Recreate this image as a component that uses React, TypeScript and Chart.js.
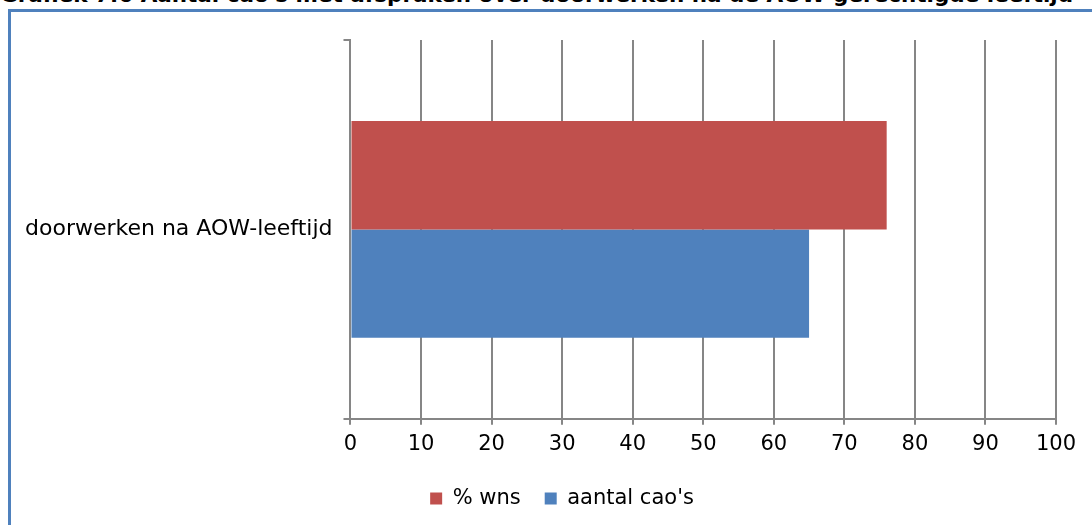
import React, { useEffect, useRef } from "react";
import { Chart, registerables } from "chart.js";

Chart.register(...registerables);

const TITLE = "Grafiek 7.6  Aantal cao's met afspraken over doorwerken na de AOW-gerechtigde leeftijd";
const categories = ["doorwerken na AOW-leeftijd"];
const seriesNames = ["% wns", "aantal cao's"];
const wnsValues = [76];
const caoValues = [65];
const seriesColors = ["#C0504D", "#4F81BD"];
const xTicks = [0, 10, 20, 30, 40, 50, 60, 70, 80, 90, 100];

const legendShift = {
  id: "legendShift",
  afterLayout(chart: any) {
    if (chart.legend) {
      chart.legend.left += 27;
      chart.legend.right += 27;
    }
  },
};

export default function App() {
  const ref = useRef<HTMLCanvasElement | null>(null);

  useEffect(() => {
    document.body.style.margin = "0";
    const ctx = ref.current!;
    const family = "'DejaVu Sans', Verdana, sans-serif";
    const tickFont = { family, size: 21 };
    const catFont = { family, size: 22 };
    const chart = new Chart(ctx, {
      type: "bar",
      data: {
        labels: categories,
        datasets: [
          {
            label: seriesNames[0],
            data: wnsValues,
            backgroundColor: seriesColors[0],
            borderWidth: 0,
          },
          {
            label: seriesNames[1],
            data: caoValues,
            backgroundColor: seriesColors[1],
            borderWidth: 0,
          },
        ],
      },
      plugins: [legendShift],
      options: {
        indexAxis: "y",
        animation: false,
        responsive: false,
        maintainAspectRatio: false,
        categoryPercentage: 0.572,
        barPercentage: 1,
        layout: { padding: { left: 3, right: 36, top: 28, bottom: 13 } },
        plugins: {
          title: { display: false },
          tooltip: { enabled: false },
          legend: {
            position: "bottom",
            labels: {
              font: tickFont,
              color: "#000",
              boxWidth: 12,
              boxHeight: 12,
              padding: 24,
            },
          },
        },
        scales: {
          x: {
            min: 0,
            max: 100,
            afterBuildTicks: (s: any) => {
              s.ticks = xTicks.map((v) => ({ value: v }));
            },
            grid: {
              color: "#868686",
              lineWidth: 2,
              drawTicks: true,
              tickLength: 6,
            },
            border: { display: true, color: "#868686", width: 2 },
            ticks: { font: tickFont, color: "#000", padding: 7, maxRotation: 0 },
          },
          y: {
            grid: {
              offset: true,
              drawOnChartArea: false,
              drawTicks: true,
              tickLength: 7,
              color: "#868686",
              lineWidth: 2,
            },
            border: { display: true, color: "#868686", width: 2 },
            ticks: { font: catFont, color: "#000", padding: 11 },
          },
        },
      },
    });
    return () => chart.destroy();
  }, []);

  return (
    <div style={{ position: "relative", width: 1092, height: 525, overflow: "hidden", background: "#fff" }}>
      <div
        style={{
          position: "absolute",
          left: 0,
          top: -16,
          whiteSpace: "nowrap",
          fontFamily: "'DejaVu Sans', sans-serif",
          fontWeight: "bold",
          fontSize: 21.5,
          lineHeight: "22px",
          color: "#000",
        }}
      >
        {TITLE}
      </div>
      <div
        style={{
          position: "absolute",
          left: 8,
          top: 9,
          width: 1100,
          height: 530,
          borderLeft: "3px solid #4F81BD",
          borderTop: "3px solid #4F81BD",
          boxSizing: "border-box",
        }}
      />
      <canvas
        ref={ref}
        width={1081}
        height={520}
        style={{ position: "absolute", left: 11, top: 12, width: 1081, height: 520 }}
      />
    </div>
  );
}
